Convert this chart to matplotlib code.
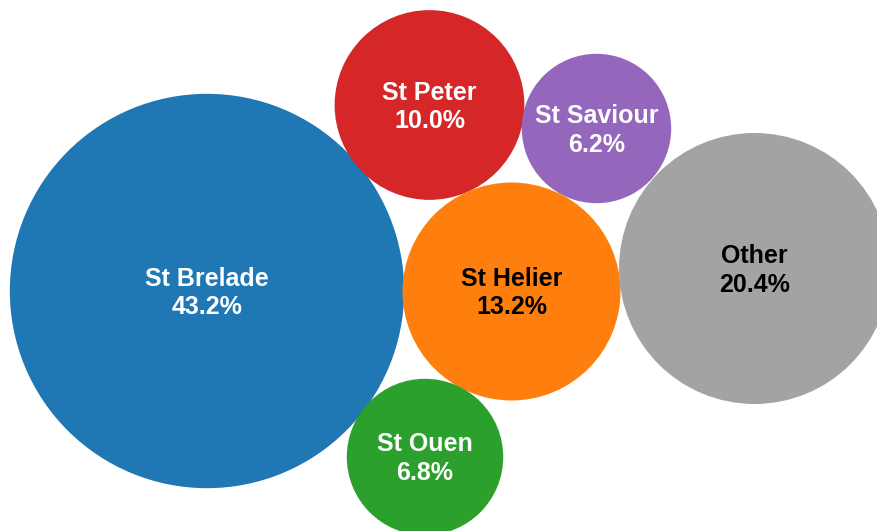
import numpy as np
import matplotlib
matplotlib.use("Agg")
import matplotlib.pyplot as plt
from matplotlib.patches import Circle

# data
parishes = ["St Brelade", "St Peter", "St Saviour", "St Helier", "Other", "St Ouen"]
shares = [43.2, 10.0, 6.2, 13.2, 20.4, 6.8]

# layout (pixel positions of bubble centres) and style
centres = [(207, 291), (429.5, 105), (596.5, 128.5), (511.5, 291.5), (754.5, 268.5), (425, 457)]
colors = ["#1f77b4", "#d62728", "#9467bd", "#ff7f0e", "#a3a3a3", "#2ca02c"]
text_colors = ["white", "white", "white", "black", "black", "white"]
px_per_sqrt = 30.0  # bubble area proportional to share

plt.rcParams['font.family'] = ['Liberation Sans', 'DejaVu Sans']

fig = plt.figure(figsize=(8.78, 5.31), dpi=100)
ax = fig.add_axes([0, 0, 1, 1])
ax.set_xlim(0, 878)
ax.set_ylim(531, 0)
ax.set_aspect('equal')
ax.axis('off')

for name, share, (cx, cy), col, tcol in zip(parishes, shares, centres, colors, text_colors):
    r = px_per_sqrt * np.sqrt(share)
    ax.add_patch(Circle((cx, cy), r, facecolor=col, edgecolor='none'))
    ax.text(cx, cy - 12.5, name, ha='center', va='center', color=tcol,
            fontsize=18, fontweight='bold')
    ax.text(cx, cy + 16, f"{share:.1f}%", ha='center', va='center', color=tcol,
            fontsize=18, fontweight='bold')

fig.savefig("out.png", dpi=100)
